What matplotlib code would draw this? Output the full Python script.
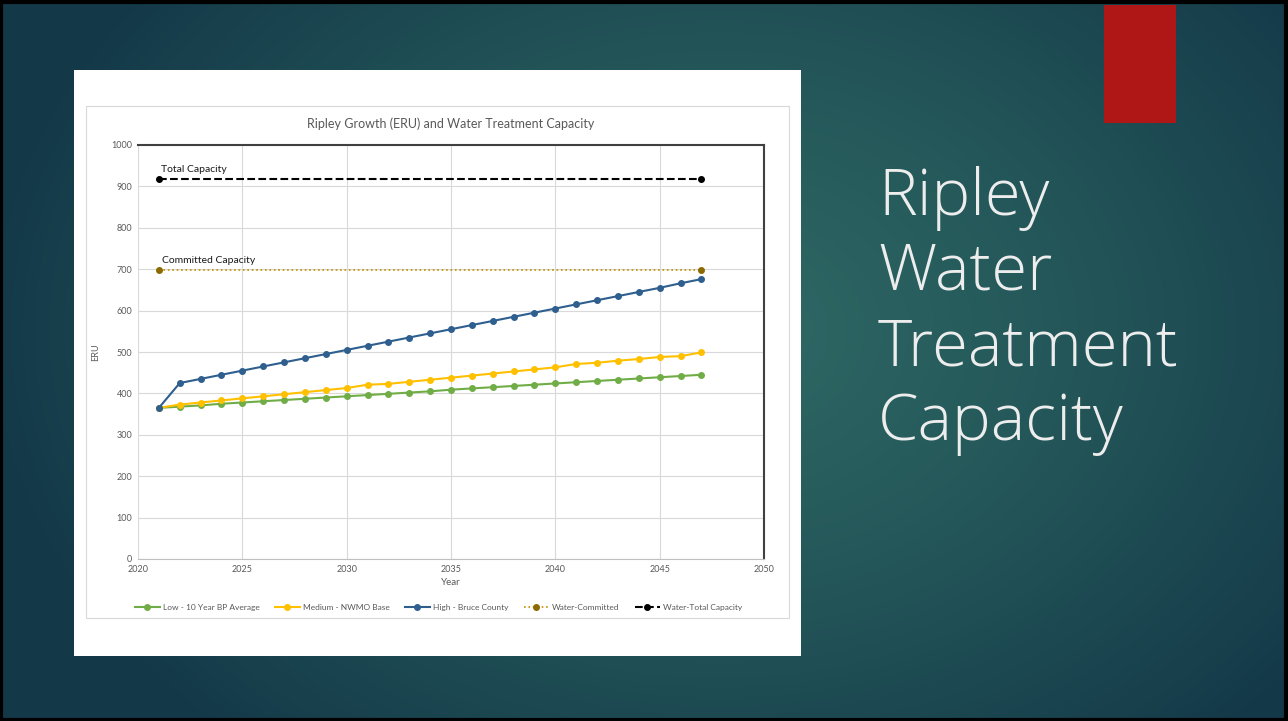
import numpy as np
import matplotlib
matplotlib.use('Agg')
import matplotlib.pyplot as plt
from matplotlib.patches import Rectangle
from matplotlib.colors import LinearSegmentedColormap

plt.rcParams['font.family'] = ['Lato', 'DejaVu Sans']

years = list(range(2021, 2048))
low = [365, 368, 371, 375, 378, 381, 384, 387, 390, 393, 396, 399, 402, 405,
       409, 412, 415, 418, 421, 424, 427, 430, 433, 436, 439, 442, 445]
medium = [365, 373, 378, 383, 388, 393, 398, 403, 408, 413, 421, 423, 428, 433,
          438, 443, 448, 453, 458, 463, 471, 474, 479, 483, 488, 490, 499]
high = [365, 425, 435, 445, 455, 465, 475, 485, 495, 505, 515, 525, 535, 545,
        555, 565, 575, 585, 595, 605, 615, 625, 635, 645, 655, 666, 676]
cap_years = [2021, 2047]
committed = [697, 697]
total = [918, 918]

W, H = 1288, 721
fig = plt.figure(figsize=(W / 100, H / 100), dpi=100)

# slide background: radial teal gradient
bg = fig.add_axes([0, 0, 1, 1])
bg.set_axis_off()
yy, xx = np.mgrid[0:H, 0:W]
r = np.sqrt(((xx - 720) / 750.0) ** 2 + ((yy - 330) / 560.0) ** 2)
cmap = LinearSegmentedColormap.from_list('slide', ['#2F6A66', '#235558', '#133848'])
bg.imshow(np.clip(r, 0, 1), cmap=cmap, vmin=0, vmax=1, aspect='auto',
          extent=[0, W, H, 0])
bg.set_xlim(0, W)
bg.set_ylim(H, 0)
bg.add_patch(Rectangle((1.5, 1.5), W - 3, H - 3, fill=False, ec='black', lw=3))
bg.add_patch(Rectangle((1104, 5), 72, 118, fc='#AE1716', ec='none'))
bg.add_patch(Rectangle((74, 70), 727, 586, fc='white', ec='none'))
bg.add_patch(Rectangle((86, 106), 703, 512, fc='white', ec='#D9D9D9', lw=0.8))
bg.text(878, 311, 'Ripley\nWater\nTreatment\nCapacity', color='#EDEDED',
        fontsize=47, fontweight='light', va='center', ha='left',
        linespacing=1.21, family=['Open Sans', 'DejaVu Sans'])

ax = fig.add_axes([138 / W, 1 - 559 / H, (764 - 138) / W, (559 - 145) / H])
ax.plot(years, low, '-o', color='#70AD47', ms=4, lw=1.5,
        label='Low - 10 Year BP Average')
ax.plot(years, medium, '-o', color='#FFC000', ms=4, lw=1.5,
        label='Medium - NWMO Base')
ax.plot(years, high, '-o', color='#2F5F8F', ms=4, lw=1.5,
        label='High - Bruce County')
ax.plot(cap_years, committed, ':o', color='#BF9000', mfc='#8C6A00', mec='#8C6A00',
        ms=4, lw=1.2, label='Water-Committed')
ax.plot(cap_years, total, '--o', color='black', ms=4, lw=1.5,
        label='Water-Total Capacity')

ax.text(2021.1, 935, 'Total Capacity', fontsize=7.5, color='#1A1A1A')
ax.text(2021.15, 714, 'Committed Capacity', fontsize=7.5, color='#1A1A1A')

ax.set_xlim(2020, 2050)
ax.set_ylim(0, 1000)
ax.set_xticks(range(2020, 2051, 5))
ax.set_yticks(range(0, 1001, 100))
ax.grid(True, color='#D9D9D9', lw=0.8)
ax.set_axisbelow(True)
ax.tick_params(labelsize=6.5, colors='#595959', length=0, pad=4)
for s in ('top', 'right'):
    ax.spines[s].set_color('#404040')
    ax.spines[s].set_linewidth(1.5)
ax.spines['bottom'].set_color('#BFBFBF')
ax.spines['left'].set_visible(False)
ax.set_xlabel('Year', fontsize=7, color='#595959', labelpad=3)
ax.set_ylabel('ERU', fontsize=6.5, color='#595959', labelpad=8)
ax.set_title('Ripley Growth (ERU) and Water Treatment Capacity', fontsize=9,
             color='#595959', pad=12)
ax.legend(loc='upper center', bbox_to_anchor=(0.48, -0.09), ncol=5,
          frameon=False, fontsize=6, labelcolor='#595959', handlelength=3,
          columnspacing=1.8, handletextpad=0.4)

fig.savefig('out.png', dpi=100)
